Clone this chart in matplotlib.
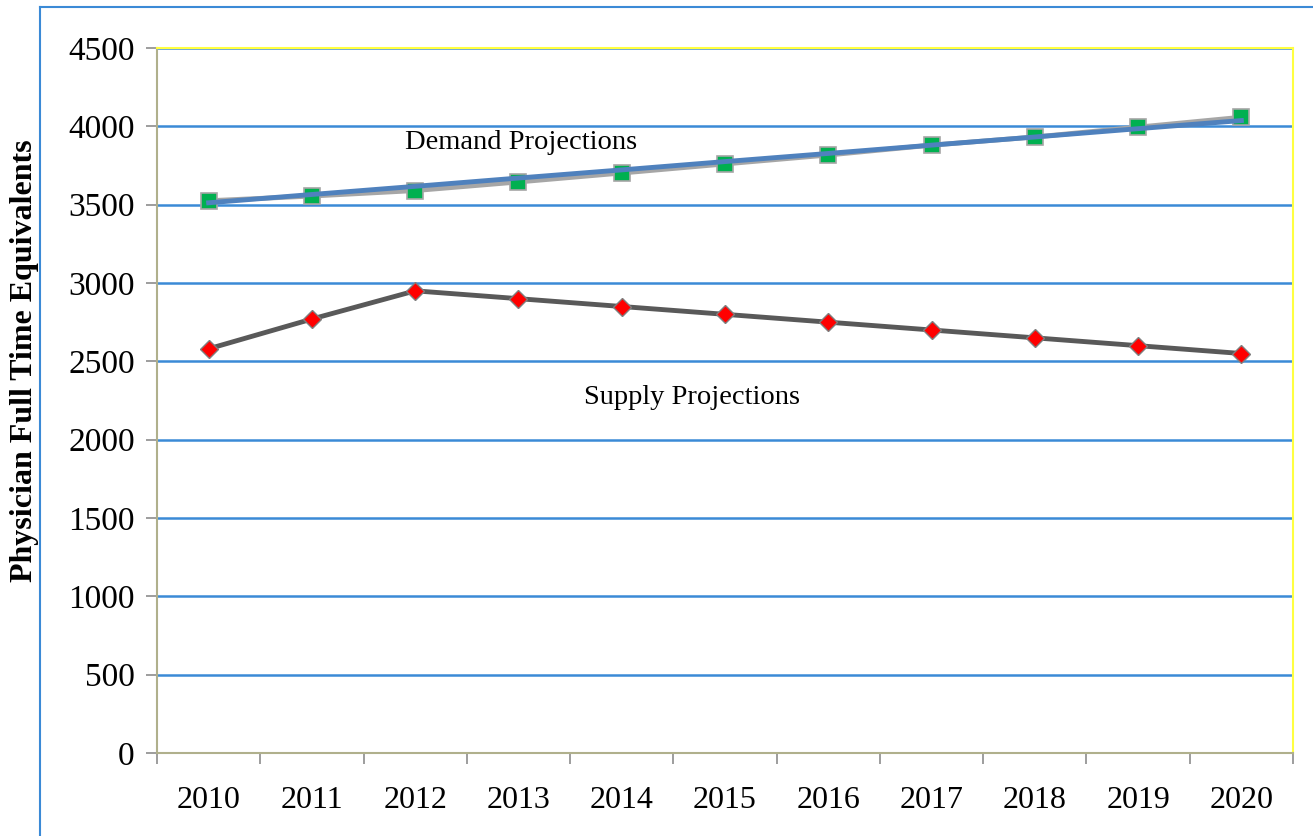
import matplotlib.pyplot as plt
from matplotlib.lines import Line2D

# Data
years = ['2010', '2011', '2012', '2013', '2014', '2015', '2016', '2017', '2018', '2019', '2020']
demand = [3525, 3555, 3590, 3645, 3702, 3760, 3817, 3880, 3932, 3995, 4058]
demand_trend = [3512, 3565, 3617, 3670, 3722, 3775, 3827, 3880, 3932, 3985, 4037]
supply = [2580, 2770, 2950, 2900, 2850, 2800, 2750, 2700, 2650, 2600, 2550]
yticks = [0, 500, 1000, 1500, 2000, 2500, 3000, 3500, 4000, 4500]

plt.rcParams['font.family'] = ['Liberation Serif', 'DejaVu Serif']

fig = plt.figure(figsize=(13.13, 8.36), dpi=100)
ax = fig.add_axes([157 / 1313, 1 - 753 / 836, 1136 / 1313, 705 / 836])

x = list(range(len(years)))

# Demand: grey line with green squares, blue trend line over it
ax.plot(x, demand, color='#a6a6a6', lw=3.5, marker='s', ms=12,
        mfc='#00b050', mec='#a6a6a6', mew=1.2, zorder=3)
ax.plot(x, demand_trend, color='#4f81bd', lw=3.5, zorder=4)

# Supply: dark grey line with red diamonds
ax.plot(x, supply, color='#595959', lw=3.5, marker='D', ms=9,
        mfc='#ff0000', mec='#7f7f7f', mew=1, zorder=3)

ax.text(3.03, 3895, 'Demand Projections', fontsize=20.5, ha='center', va='center')
ax.text(4.68, 2272, 'Supply Projections', fontsize=20.5, ha='center', va='center')

ax.set_xlim(-0.5, len(years) - 0.5)
ax.set_ylim(0, 4500)
ax.set_yticks(yticks)
ax.set_yticklabels([str(v) for v in yticks], fontsize=24)
ax.set_xticks(x)
ax.set_xticklabels(years, fontsize=23)
ax.set_xticks([i - 0.5 for i in range(len(years) + 1)], minor=True)
ax.tick_params(axis='x', which='major', length=0, pad=24)
ax.tick_params(axis='x', which='minor', length=8, color='#8c8c8c', width=1.2, direction='out')
ax.tick_params(axis='y', length=8, color='#8c8c8c', width=1.2, pad=8)

ax.yaxis.grid(True, color='#3b8ad6', lw=1.8)
ax.set_axisbelow(True)

ax.spines['left'].set_color('#b0b08c')
ax.spines['bottom'].set_color('#b0b08c')
ax.spines['top'].set_color('#ffff40')
ax.spines['right'].set_color('#ffff40')
for s in ax.spines.values():
    s.set_linewidth(1.5)

ax.set_ylabel('Physician Full Time Equivalents', fontsize=23, fontweight='bold')
ax.yaxis.set_label_coords(-0.104, 0.556)

# Outer frame lines (blue)
fig.add_artist(Line2D([40 / 1313, 40 / 1313], [0, 1 - 7 / 836], color='#3b8ad6', lw=1.5))
fig.add_artist(Line2D([40 / 1313, 1], [1 - 7 / 836, 1 - 7 / 836], color='#3b8ad6', lw=1.5))

fig.savefig('out.png', dpi=100)
